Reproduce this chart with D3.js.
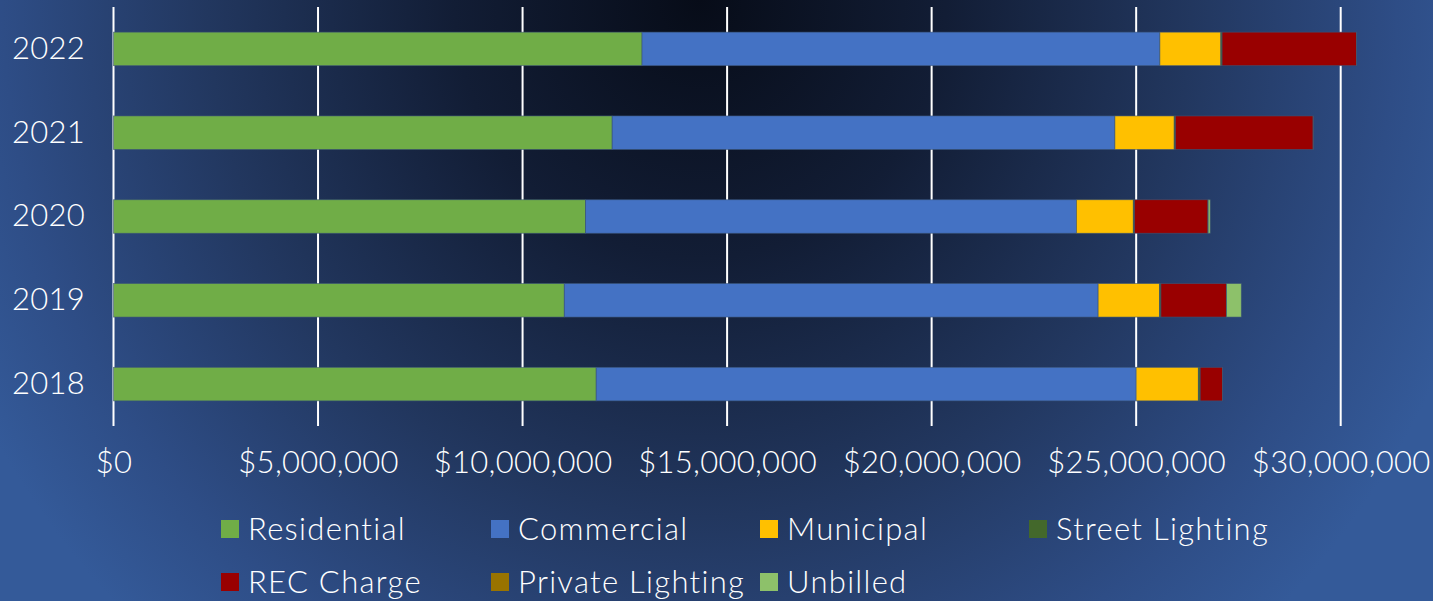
<!DOCTYPE html>
<html>
<head>
<meta charset="utf-8">
<script src="https://cdn.jsdelivr.net/npm/d3@7"></script>
<style>
  html, body { margin: 0; padding: 0; background: #2c4a80; }
  #chart { width: 1433px; height: 601px; }
  text { font-family: "Lato", "Open Sans", sans-serif; font-weight: 300; fill: #ffffff; }
</style>
</head>
<body>
<div id="chart"></div>
<script>
const years = ["2022", "2021", "2020", "2019", "2018"];
const seriesNames = ["Residential", "Commercial", "Municipal", "Street Lighting", "REC Charge", "Private Lighting", "Unbilled"];
const seriesColors = ["#70ad47", "#4472c4", "#ffc000", "#43682b", "#990000", "#997300", "#8dc16a"];

// values per year, same order as years
const residential = [12920000, 12190000, 11540000, 11020000, 11800000];
const commercial = [12660000, 12290000, 12000000, 13050000, 13200000];
const municipal = [1490000, 1450000, 1390000, 1500000, 1520000];
const streetLighting = [30000, 30000, 30000, 35000, 45000];
const recCharge = [3285000, 3365000, 1795000, 1600000, 545000];
const privateLighting = [5000, 5000, 5000, 5000, 5000];
const unbilled = [0, 0, 50000, 360000, 0];

const xTicks = [0, 5000000, 10000000, 15000000, 20000000, 25000000, 30000000];

const seriesValues = [residential, commercial, municipal, streetLighting, recCharge, privateLighting, unbilled];

const rows = years.map((y, i) => {
    const row = { year: y };
    seriesNames.forEach((s, j) => { row[s] = seriesValues[j][i]; });
    return row;
});

const W = 1433, H = 601;
const svg = d3.select("#chart").append("svg")
    .attr("width", W)
    .attr("height", H);

// background gradient
const defs = svg.append("defs");
const grad = defs.append("radialGradient")
    .attr("id", "bg")
    .attr("gradientUnits", "userSpaceOnUse")
    .attr("cx", 700).attr("cy", 0).attr("r", 820)
    .attr("gradientTransform", "translate(700,0) scale(1,1.05) translate(-700,0)");
grad.append("stop").attr("offset", "0").attr("stop-color", "#070c18");
grad.append("stop").attr("offset", "0.3").attr("stop-color", "#121d35");
grad.append("stop").attr("offset", "0.6").attr("stop-color", "#22375f");
grad.append("stop").attr("offset", "0.85").attr("stop-color", "#2e4d86");
grad.append("stop").attr("offset", "1").attr("stop-color", "#345a99");

svg.append("rect").attr("width", W).attr("height", H).attr("fill", "url(#bg)");

const plot = { left: 113.5, right: 1340.7, top: 7, bottom: 426 };

const x = d3.scaleLinear()
    .domain([0, 30000000])
    .range([plot.left, plot.right]);

const y = d3.scaleBand()
    .domain(years)
    .range([plot.top, plot.bottom])
    .paddingInner(0.6)
    .paddingOuter(0.3);

// grid lines
svg.append("g")
    .selectAll("line")
    .data(xTicks)
    .enter()
    .append("line")
    .attr("x1", d => x(d))
    .attr("x2", d => x(d))
    .attr("y1", plot.top)
    .attr("y2", plot.bottom)
    .attr("stroke", "#ffffff")
    .attr("stroke-width", 2);

// stacked bars
const stack = d3.stack().keys(seriesNames);
const stacked = stack(rows);

svg.append("g")
    .selectAll("g")
    .data(stacked)
    .enter()
    .append("g")
    .attr("fill", (d, i) => seriesColors[i])
    .selectAll("rect")
    .data(d => d)
    .enter()
    .append("rect")
    .attr("x", d => x(d[0]))
    .attr("width", d => Math.max(0, x(d[1]) - x(d[0])))
    .attr("y", d => y(d.data.year))
    .attr("height", y.bandwidth())
    .attr("stroke", "rgba(60,85,120,0.7)")
    .attr("stroke-width", 0.8);

// x axis labels
const xAxis = svg.append("g")
    .attr("transform", `translate(0,${plot.bottom})`)
    .call(d3.axisBottom(x).tickValues(xTicks).tickSize(0).tickPadding(25)
        .tickFormat(d => "$" + d3.format(",")(d)));
xAxis.select(".domain").remove();
xAxis.selectAll("text")
    .attr("fill", "#ffffff")
    .style("font-size", "31px")
    .style("letter-spacing", "0.3px")
    .style("font-family", "Lato, 'Open Sans', sans-serif")
    .style("font-weight", 300);

// y axis labels
const yAxis = svg.append("g")
    .attr("transform", `translate(${plot.left},0)`)
    .call(d3.axisLeft(y).tickSize(0).tickPadding(28));
yAxis.select(".domain").remove();
yAxis.selectAll("text")
    .attr("fill", "#ffffff")
    .attr("text-anchor", "start")
    .attr("x", 12 - plot.left)
    .style("font-size", "31px")
    .style("letter-spacing", "0.3px")
    .style("font-family", "Lato, 'Open Sans', sans-serif")
    .style("font-weight", 300);

// legend
const legendCols = [221, 491, 760, 1029];
const legendRows = [529, 582];
const legend = svg.append("g");
seriesNames.forEach((name, i) => {
    const lx = legendCols[i % 4];
    const ly = legendRows[Math.floor(i / 4)];
    legend.append("rect")
        .attr("x", lx)
        .attr("y", ly - 9)
        .attr("width", 18)
        .attr("height", 18)
        .attr("fill", seriesColors[i]);
    legend.append("text")
        .attr("x", lx + 27)
        .attr("y", ly)
        .attr("dy", "0.36em")
        .style("font-size", "31px")
        .style("letter-spacing", "1.3px")
        .text(name);
});
</script>
</body>
</html>
